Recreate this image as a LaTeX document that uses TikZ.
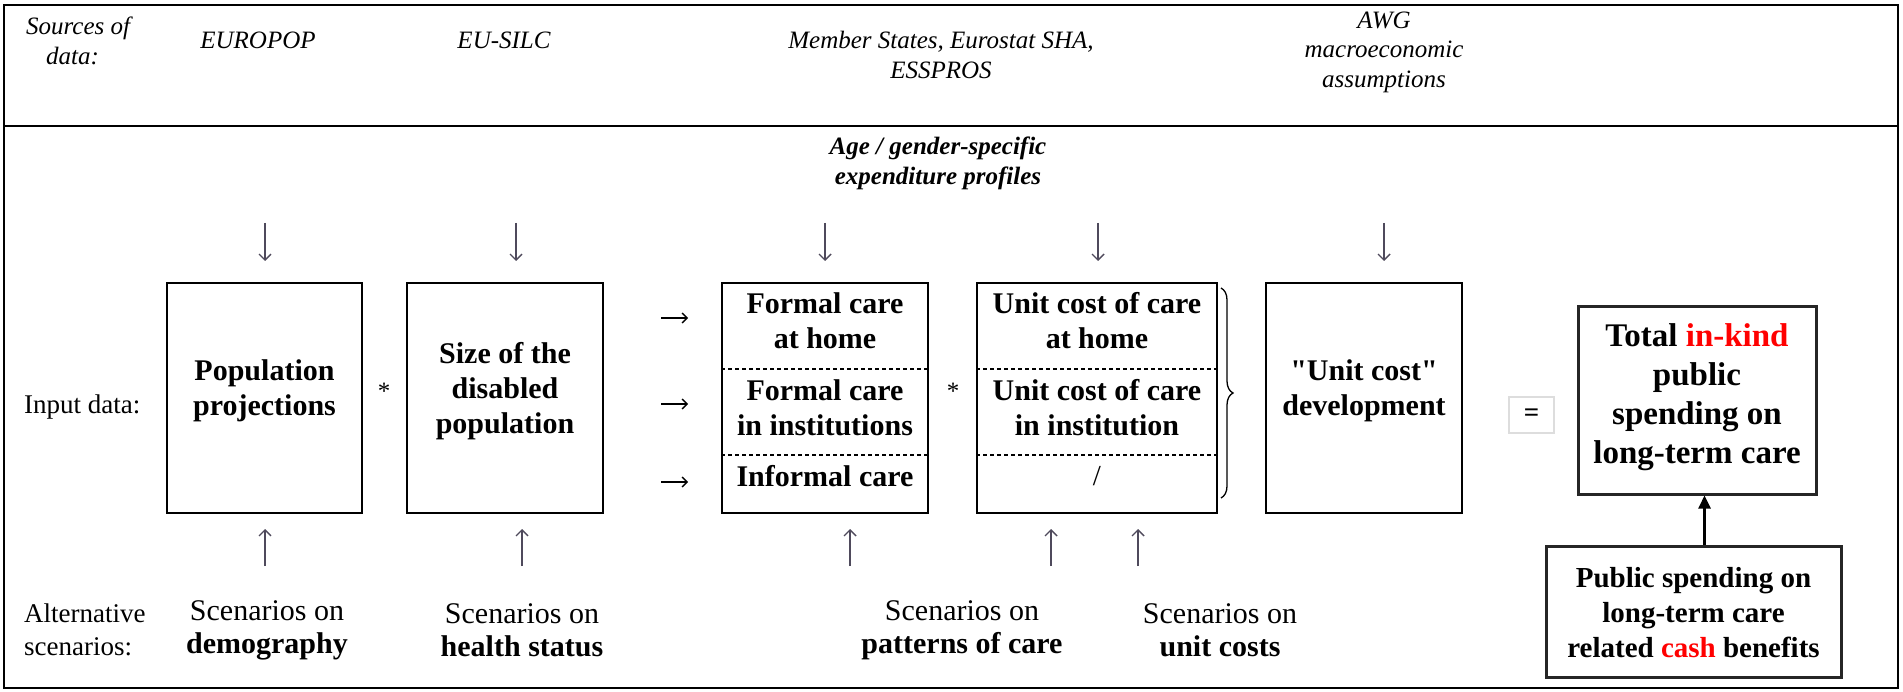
\documentclass[tikz,border=0pt]{standalone}
\usepackage{fontspec}
\setmainfont{Liberation Serif}[Ligatures=TeXOff]
\usetikzlibrary{arrows.meta,decorations.pathreplacing,calc}
\definecolor{arrgray}{HTML}{4F4A5C}
\definecolor{eqgray}{HTML}{DDDDDD}
\begin{document}
\begin{tikzpicture}[x=1pt,y=1pt,
  box/.style={draw=black,line width=2pt,inner sep=0pt},
  bigbox/.style={draw=black!85,line width=3pt,inner sep=0pt},
  boxtxt/.style={align=center,inner sep=0pt,font=\fontsize{30}{35}\selectfont\bfseries},
  srctxt/.style={align=center,inner sep=0pt,font=\fontsize{25}{29.5}\selectfont\itshape},
  lbltxt/.style={align=left,inner sep=0pt,anchor=west,font=\fontsize{27}{33}\selectfont},
  scntxt/.style={align=center,inner sep=0pt,font=\fontsize{30}{33}\selectfont},
  thinarr/.style={draw=arrgray,line width=1.4pt,-{Straight Barb[length=6pt,width=12pt]}},
  rarr/.style={draw=black,line width=1.4pt,-{Straight Barb[length=5pt,width=10pt]}},
  sep/.style={dashed,line width=1.3pt,dash pattern=on 4pt off 3pt}
]
\useasboundingbox (0,0) rectangle (1903,-692);
% frame
\draw[line width=2.5pt] (4,-5) rectangle (1898,-688);
\draw[line width=2.5pt] (4,-126) -- (1898,-126);

% sources row
\node[srctxt,align=left,anchor=west] (src) at (26,-41) {Sources of\\\hspace*{0.8em}data:};
\node[srctxt] (europop) at (258,-40) {EUROPOP};
\node[srctxt] (eusilc) at (504,-40) {EU-SILC};
\node[srctxt] (ms) at (941,-55) {Member States, Eurostat SHA,\\ESSPROS};
\node[srctxt] (awg) at (1384,-52) {AWG\\macroeconomic\\assumptions};

% age/gender
\node[align=center,inner sep=0pt,font=\fontsize{25}{30}\selectfont\bfseries\itshape] (age) at (938,-163) {Age / gender-specific\\expenditure profiles};

% boxes
\node[box,minimum width=195pt,minimum height=230pt] (pp) at (264.5,-398) {};
\node[boxtxt] (pptxt) at (264.5,-391) {Population\\projections};
\node[box,minimum width=196pt,minimum height=230pt] (sd) at (505,-398) {};
\node[boxtxt] (sdtxt) at (505,-391) {Size of the\\disabled\\population};
\node[box,minimum width=206pt,minimum height=230pt] (fc) at (825,-398) {};
\node[boxtxt] (fc1) at (825,-321) {Formal care\\at home};
\node[boxtxt] (fc2) at (825,-408) {Formal care\\in institutions};
\node[boxtxt] (fc3) at (825,-476) {Informal care};
\node[box,minimum width=240pt,minimum height=230pt] (uc) at (1097,-398) {};
\node[boxtxt] (uc1) at (1097,-321) {Unit cost of care\\at home};
\node[boxtxt] (uc2) at (1097,-408) {Unit cost of care\\in institution};
\node[boxtxt,font=\fontsize{29}{35}\selectfont] (uc3) at (1097,-476) {/};
\node[box,minimum width=196pt,minimum height=230pt] (ud) at (1364,-398) {};
\node[boxtxt] (udtxt) at (1364,-391) {"Unit cost"\\development};
\node[draw=eqgray,line width=1.2pt,minimum width=45pt,minimum height=36pt,inner sep=0pt,font=\fontsize{27}{30}\selectfont\bfseries] (eq) at (1531.5,-415) {=};
\node[bigbox,minimum width=238pt,minimum height=187pt] (total) at (1697,-400.5) {};
\node[align=center,inner sep=0pt,font=\fontsize{33}{39}\selectfont\bfseries] (totaltxt) at (1697,-397) {Total \textcolor{red}{in-kind}\\public\\spending on\\long-term care};
\node[bigbox,minimum width=295pt,minimum height=131pt] (cash) at (1693.5,-611.5) {};
\node[boxtxt,font=\fontsize{29}{35}\selectfont\bfseries] (cashtxt) at (1693.5,-613) {Public spending on\\long-term care\\related \textcolor{red}{cash} benefits};

% dashed separators
\coordinate (s1) at (0,-369);
\coordinate (s2) at (0,-455);
\draw[sep] (fc.west |- s1) -- (fc.east |- s1);
\draw[sep] (fc.west |- s2) -- (fc.east |- s2);
\draw[sep] (uc.west |- s1) -- (uc.east |- s1);
\draw[sep] (uc.west |- s2) -- (uc.east |- s2);

% brace
\draw[line width=1.3pt,decorate,decoration={brace,amplitude=12pt}] (1221,-288) -- (1221,-498);

% labels
\node[lbltxt] (input) at (24,-407) {Input data:};
\node[lbltxt] (alt) at (24,-630) {Alternative\\scenarios:};
\node[inner sep=0pt,font=\fontsize{25}{30}\selectfont] (m1) at (384,-391) {*};
\node[inner sep=0pt,font=\fontsize{25}{30}\selectfont] (m2) at (953,-391) {*};

% bottom scenario texts
\node[scntxt] (sc1) at (267,-630) {Scenarios on\\\textbf{demography}};
\node[scntxt] (sc2) at (522,-630) {Scenarios on\\\textbf{health status}};
\node[scntxt] (sc3) at (962,-630) {Scenarios on\\\textbf{patterns of care}};
\node[scntxt] (sc4) at (1220,-630) {Scenarios on\\\textbf{unit costs}};

% down arrows
\foreach \x/\n in {265/d1,516/d2,825/d3,1098/d4,1384/d5}{
  \coordinate (\n a) at (\x,-223);
  \coordinate (\n b) at (\x,-261);
  \draw[thinarr] (\n a) -- (\n b);
}
% up arrows
\foreach \x/\n in {265/u1,522/u2,850/u3,1051/u4,1138/u5}{
  \coordinate (\n a) at (\x,-566);
  \coordinate (\n b) at (\x,-529);
  \draw[thinarr] (\n a) -- (\n b);
}
% right arrows
\foreach \y/\n in {318/r1,404/r2,482/r3}{
  \coordinate (\n a) at (661,-\y);
  \coordinate (\n b) at (688,-\y);
  \draw[rarr] (\n a) -- (\n b);
}
% cash -> total
\coordinate (ca) at ([xshift=11pt]cash.north);
\draw[line width=2.5pt,-{Triangle[length=13pt,width=12pt]}] (ca) -- (ca |- total.south);
\end{tikzpicture}
\end{document}
